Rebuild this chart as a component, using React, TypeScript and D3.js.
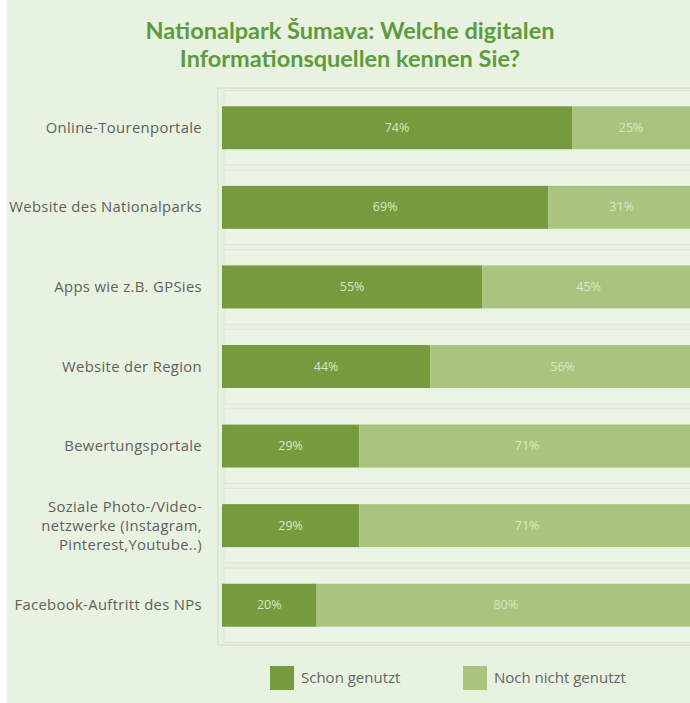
import React from 'react';
import * as d3 from 'd3';

const categories = [
  'Online-Tourenportale',
  'Website des Nationalparks',
  'Apps wie z.B. GPSies',
  'Website der Region',
  'Bewertungsportale',
  'Soziale Photo-/Video-|netzwerke (Instagram,|Pinterest,Youtube..)',
  'Facebook-Auftritt des NPs',
];
const schonGenutzt = [74, 69, 55, 44, 29, 29, 20];
const nochNicht = [25, 31, 45, 56, 71, 71, 80];
const seriesNames = ['Schon genutzt', 'Noch nicht genutzt'];
const titleLines = ['Nationalpark Šumava: Welche digitalen', 'Informationsquellen kennen Sie?'];

const W = 690;
const H = 703;
const colors = ['#769a3e', '#aac47f'];
const font = '"Open Sans", Lato, sans-serif';
const titleFont = 'Lato, sans-serif';

const App = () => {
  const plot = { left: 218, top: 88, bottom: 645 };

  const x = d3.scaleLinear().domain([0, 100]).range([222, 695]);
  const y = d3.scaleBand<string>()
    .domain(categories)
    .range([plot.top, plot.bottom])
    .paddingInner(0.46)
    .paddingOuter(0.23);
  const step = y.step();

  const rows = categories.map((c, i) => ({ c, v1: schonGenutzt[i], v2: nochNicht[i] }));
  const stacked = d3.stack<any>().keys(['v1', 'v2'])(rows);

  return (
    <svg width={W} height={H} style={{ position: 'absolute', left: 0, top: 0 }}>
      <rect x={7} y={0} width={W - 7} height={H} fill="#e8f2e0" />

      {titleLines.map((t, i) => (
        <text key={i} x={350} y={39 + i * 27.5} textAnchor="middle" fontFamily={titleFont}
          fontWeight={700} fontSize={23.5} fill="#5e9b3d">{t}</text>
      ))}

      {/* frame and row boxes */}
      <rect x={plot.left} y={plot.top} width={W} height={plot.bottom - plot.top}
        fill="none" stroke="#d6dfcd" strokeWidth={1.2} />
      {categories.map((c) => {
        const top = (y(c) as number) - y.paddingOuter() * step;
        return (
          <rect key={c} x={224} y={top + 2.5} width={W} height={step - 5}
            fill="#ebf4e4" stroke="#dbe3d2" strokeWidth={1} />
        );
      })}

      {stacked.map((s, si) => (
        <g key={s.key} fill={colors[si]}>
          {s.map((d, i) => (
            <rect key={i} x={x(d[0])} y={y(categories[i])} width={x(d[1]) - x(d[0])}
              height={y.bandwidth()} />
          ))}
        </g>
      ))}

      {stacked.map((s) => (
        <g key={s.key + 'l'}>
          {s.map((d, i) => (
            <text key={i} x={Math.min((x(d[0]) + x(d[1])) / 2, 640)}
              y={(y(categories[i]) as number) + y.bandwidth() / 2 + 4}
              textAnchor="middle" fontFamily={font} fontSize={12.5} fill="#d9e8c3">
              {d[1] - d[0]}%
            </text>
          ))}
        </g>
      ))}

      {categories.map((c) => {
        const lines = c.split('|');
        const cy = (y(c) as number) + y.bandwidth() / 2;
        return (
          <text key={c} textAnchor="end" fontFamily={font} fontSize={14.8} letterSpacing={0.35}
            fill="#606060">
            {lines.map((l, j) => (
              <tspan key={j} x={202} y={cy + 5 + (j - (lines.length - 1) / 2) * 19}>{l}</tspan>
            ))}
          </text>
        );
      })}

      {seriesNames.map((n, i) => (
        <g key={n} transform={`translate(${[270, 463][i]},666)`}>
          <rect width={24} height={24} fill={colors[i]} />
          <text x={31} y={17} fontFamily={font} fontSize={15} fill="#666">{n}</text>
        </g>
      ))}
    </svg>
  );
};

export default App;
